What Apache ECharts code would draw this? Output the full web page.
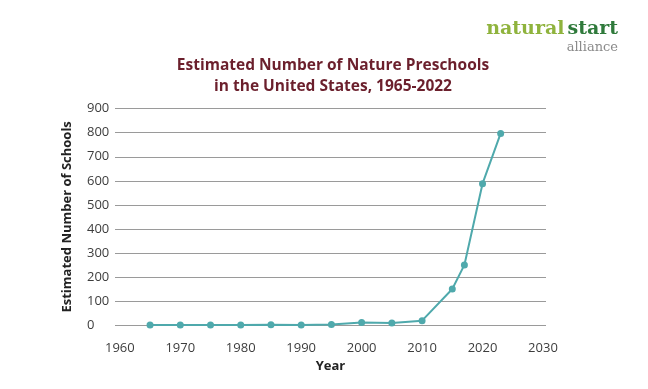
<!DOCTYPE html>
<html>
<head>
<meta charset="utf-8">
<script src="https://cdn.jsdelivr.net/npm/echarts@6/dist/echarts.min.js"></script>
<style>html,body{margin:0;padding:0;background:#fff}#c{width:648px;height:389px}</style>
</head>
<body>
<div id="c"></div>
<script>
const years = [1965, 1970, 1975, 1980, 1985, 1990, 1995, 2000, 2005, 2010, 2015, 2017, 2020, 2023];
const schools = [0, 0, 0, 0, 1, 0, 2, 10, 8, 18, 150, 250, 588, 797];
const xTicks = [1960, 1970, 1980, 1990, 2000, 2010, 2020, 2030];
const titleText = 'Estimated Number of Nature Preschools\nin the United States, 1965-2022';

const chart = echarts.init(document.getElementById('c'), null, {renderer: 'canvas'});
const labelFont = {fontFamily: 'Open Sans', fontSize: 13, color: '#3d3d3d'};
chart.setOption({
  animation: false,
  title: {
    text: titleText, left: 328, top: 50, textAlign: 'center',
    textStyle: {fontFamily: 'Open Sans', fontWeight: 'bold', fontSize: 15.5, color: '#6b1f2c', lineHeight: 21}
  },
  graphic: [
    {type: 'text', right: 30, top: 20, style: {
      text: '{a|natural}{b|start}', align: 'right',
      rich: {
        a: {font: '600 19px "DejaVu Serif"', fill: '#8fb33d'},
        b: {font: '600 19px "DejaVu Serif"', fill: '#2f7a3b', padding: [0, 0, 0, 3]}
      }
    }},
    {type: 'text', right: 30, top: 41, style: {text: 'alliance', font: '13px "DejaVu Serif"', fill: '#8a8a8a'}}
  ],
  grid: {left: 115, right: 102, top: 108.7, bottom: 64},
  xAxis: {
    type: 'value', min: 1959.2, max: 2030.5,
    name: 'Year', nameLocation: 'middle', nameGap: 33,
    nameTextStyle: {fontFamily: 'Open Sans', fontWeight: 'bold', fontSize: 13, color: '#222'},
    axisLine: {show: false}, axisTick: {show: false}, splitLine: {show: false},
    axisLabel: Object.assign({customValues: xTicks, margin: 17, formatter: v => String(v)}, labelFont)
  },
  yAxis: {
    type: 'value', min: 0, max: 900, interval: 100,
    name: 'Estimated Number of Schools', nameLocation: 'middle', nameGap: 41,
    nameTextStyle: {fontFamily: 'Open Sans', fontWeight: 'bold', fontSize: 13, color: '#222'},
    axisLine: {show: false}, axisTick: {show: false},
    splitLine: {lineStyle: {color: '#9a9a9a', width: 1}},
    axisLabel: Object.assign({margin: 28, align: 'left'}, labelFont)
  },
  series: [{
    type: 'line', data: years.map((y, i) => [y, schools[i]]),
    symbol: 'circle', symbolSize: 7,
    lineStyle: {color: '#4fa9ac', width: 2},
    itemStyle: {color: '#4fa9ac'}
  }]
});
</script>
</body>
</html>
